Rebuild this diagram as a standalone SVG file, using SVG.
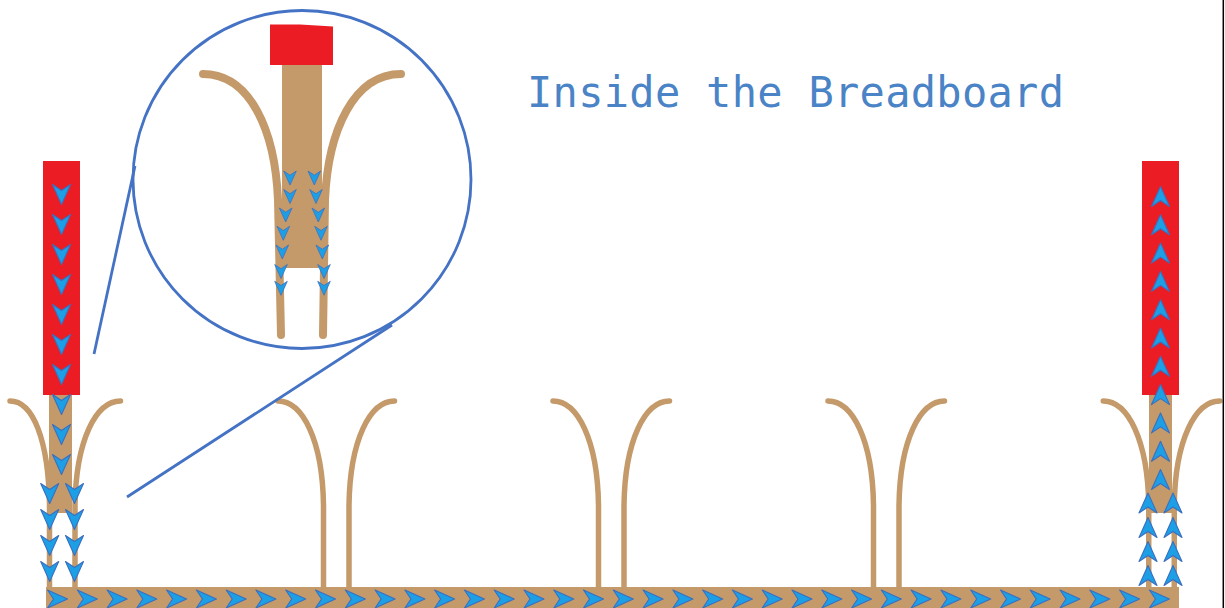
<svg xmlns="http://www.w3.org/2000/svg" xmlns:xlink="http://www.w3.org/1999/xlink" width="1225" height="608" viewBox="0 0 1225 608">
  <style>
    .brass { fill: #c49a6a; }
    .brass-line { fill: none; stroke: #c49a6a; stroke-linecap: round; }
    .prong { fill: none; stroke: #c49a6a; stroke-width: 5.5; stroke-linecap: round; }
    .lead { fill: #ec1c24; }
    .flow { fill: #1d9fe6; stroke: #3a6fc0; stroke-width: 1.1; stroke-linejoin: round; }
    .zoom { fill: none; stroke: #4472c4; stroke-width: 2.8; }
    .title { font-family: "DejaVu Sans Mono", "Liberation Mono", monospace; font-size: 42px; fill: #4a84c6; }
  </style>
  <defs>
    <!-- current-flow chevron, pointing right, centred on the origin -->
    <path id="arr" d="M-10,-9 L10,0 L-10,9 L-4,0 Z"/>
    <!-- one spring contact of a breadboard clip, leg centred on x=0 -->
    <path id="prong" d="M-45.5,401 C-21,401 -1,440 0,505 L0,587"/>
    <g id="clip" class="prong">
      <use xlink:href="#prong"/>
      <use xlink:href="#prong" transform="translate(25.5,0) scale(-1,1)"/>
    </g>
  </defs>

  <rect width="1225" height="608" fill="#ffffff"/>

  <!-- bus strip running along the bottom -->
  <g id="bus">
    <rect class="brass" x="46" y="587" width="1133" height="21"/>
  </g>

  <!-- spring clips -->
  <g id="clips">
    <g id="clip-1" class="prong">
      <path d="M10,401 C33,401 48.5,440 49.5,505 L49.5,587"/>
      <use xlink:href="#prong" transform="translate(75,0) scale(-1,1)"/>
    </g>
    <use id="clip-2" xlink:href="#clip" transform="translate(323.5,0)"/>
    <use id="clip-3" xlink:href="#clip" transform="translate(598.5,0)"/>
    <use id="clip-4" xlink:href="#clip" transform="translate(873.5,0)"/>
    <use id="clip-5" xlink:href="#clip" transform="translate(1148.75,0)"/>
  </g>

  <!-- component leads pushed into the outer clips -->
  <g id="left-lead">
    <rect class="lead" x="43" y="161" width="37" height="234"/>
    <rect class="brass" x="49" y="395" width="23" height="118"/>
  </g>
  <g id="right-lead">
    <rect class="lead" x="1142" y="161" width="37" height="234"/>
    <rect class="brass" x="1149" y="395" width="23" height="118"/>
  </g>

  <!-- current flow -->
  <g id="flow-left" class="flow">
    <use xlink:href="#arr" transform="translate(61.5,194.5) rotate(90)"/>
    <use xlink:href="#arr" transform="translate(61.5,224.5) rotate(90)"/>
    <use xlink:href="#arr" transform="translate(61.5,254.5) rotate(90)"/>
    <use xlink:href="#arr" transform="translate(61.5,284.5) rotate(90)"/>
    <use xlink:href="#arr" transform="translate(61.5,314.5) rotate(90)"/>
    <use xlink:href="#arr" transform="translate(61.5,344.5) rotate(90)"/>
    <use xlink:href="#arr" transform="translate(61.5,374.5) rotate(90)"/>
    <use xlink:href="#arr" transform="translate(61.5,404.5) rotate(90)"/>
    <use xlink:href="#arr" transform="translate(61.5,434.5) rotate(90)"/>
    <use xlink:href="#arr" transform="translate(61.5,464.5) rotate(90)"/>
    <use xlink:href="#arr" transform="translate(49.7,493.5) rotate(90)"/>
    <use xlink:href="#arr" transform="translate(49.7,519.5) rotate(90)"/>
    <use xlink:href="#arr" transform="translate(49.7,545.5) rotate(90)"/>
    <use xlink:href="#arr" transform="translate(49.7,571.5) rotate(90)"/>
    <use xlink:href="#arr" transform="translate(74.5,493.5) rotate(90)"/>
    <use xlink:href="#arr" transform="translate(74.5,519.5) rotate(90)"/>
    <use xlink:href="#arr" transform="translate(74.5,545.5) rotate(90)"/>
    <use xlink:href="#arr" transform="translate(74.5,571.5) rotate(90)"/>
  </g>
  <g id="flow-right" class="flow">
    <use xlink:href="#arr" transform="translate(1160.5,196.5) rotate(-90)"/>
    <use xlink:href="#arr" transform="translate(1160.5,224.8) rotate(-90)"/>
    <use xlink:href="#arr" transform="translate(1160.5,253.1) rotate(-90)"/>
    <use xlink:href="#arr" transform="translate(1160.5,281.4) rotate(-90)"/>
    <use xlink:href="#arr" transform="translate(1160.5,309.7) rotate(-90)"/>
    <use xlink:href="#arr" transform="translate(1160.5,338) rotate(-90)"/>
    <use xlink:href="#arr" transform="translate(1160.5,366.3) rotate(-90)"/>
    <use xlink:href="#arr" transform="translate(1160.5,394.6) rotate(-90)"/>
    <use xlink:href="#arr" transform="translate(1160.5,422.9) rotate(-90)"/>
    <use xlink:href="#arr" transform="translate(1160.5,451.2) rotate(-90)"/>
    <use xlink:href="#arr" transform="translate(1160.5,479.5) rotate(-90)"/>
    <use xlink:href="#arr" transform="translate(1148,503) rotate(-90)"/>
    <use xlink:href="#arr" transform="translate(1148,527.5) rotate(-90)"/>
    <use xlink:href="#arr" transform="translate(1148,551.5) rotate(-90)"/>
    <use xlink:href="#arr" transform="translate(1148,575.5) rotate(-90)"/>
    <use xlink:href="#arr" transform="translate(1173,503) rotate(-90)"/>
    <use xlink:href="#arr" transform="translate(1173,527.5) rotate(-90)"/>
    <use xlink:href="#arr" transform="translate(1173,551.5) rotate(-90)"/>
    <use xlink:href="#arr" transform="translate(1173,575.5) rotate(-90)"/>
  </g>
  <g id="flow-bus" class="flow">
    <use xlink:href="#arr" transform="translate(57.5,599)"/>
    <use xlink:href="#arr" transform="translate(87.3,599)"/>
    <use xlink:href="#arr" transform="translate(117.1,599)"/>
    <use xlink:href="#arr" transform="translate(146.8,599)"/>
    <use xlink:href="#arr" transform="translate(176.6,599)"/>
    <use xlink:href="#arr" transform="translate(206.4,599)"/>
    <use xlink:href="#arr" transform="translate(236.2,599)"/>
    <use xlink:href="#arr" transform="translate(265.9,599)"/>
    <use xlink:href="#arr" transform="translate(295.7,599)"/>
    <use xlink:href="#arr" transform="translate(325.5,599)"/>
    <use xlink:href="#arr" transform="translate(355.3,599)"/>
    <use xlink:href="#arr" transform="translate(385.1,599)"/>
    <use xlink:href="#arr" transform="translate(414.9,599)"/>
    <use xlink:href="#arr" transform="translate(444.6,599)"/>
    <use xlink:href="#arr" transform="translate(474.4,599)"/>
    <use xlink:href="#arr" transform="translate(504.2,599)"/>
    <use xlink:href="#arr" transform="translate(534,599)"/>
    <use xlink:href="#arr" transform="translate(563.8,599)"/>
    <use xlink:href="#arr" transform="translate(593.5,599)"/>
    <use xlink:href="#arr" transform="translate(623.3,599)"/>
    <use xlink:href="#arr" transform="translate(653.1,599)"/>
    <use xlink:href="#arr" transform="translate(682.9,599)"/>
    <use xlink:href="#arr" transform="translate(712.7,599)"/>
    <use xlink:href="#arr" transform="translate(742.4,599)"/>
    <use xlink:href="#arr" transform="translate(772.2,599)"/>
    <use xlink:href="#arr" transform="translate(802,599)"/>
    <use xlink:href="#arr" transform="translate(831.8,599)"/>
    <use xlink:href="#arr" transform="translate(861.6,599)"/>
    <use xlink:href="#arr" transform="translate(891.3,599)"/>
    <use xlink:href="#arr" transform="translate(921.1,599)"/>
    <use xlink:href="#arr" transform="translate(950.9,599)"/>
    <use xlink:href="#arr" transform="translate(980.7,599)"/>
    <use xlink:href="#arr" transform="translate(1010.5,599)"/>
    <use xlink:href="#arr" transform="translate(1040.2,599)"/>
    <use xlink:href="#arr" transform="translate(1070,599)"/>
    <use xlink:href="#arr" transform="translate(1099.8,599)"/>
    <use xlink:href="#arr" transform="translate(1129.6,599)"/>
    <use xlink:href="#arr" transform="translate(1159.4,599)"/>
  </g>

  <!-- magnified view of the left clip -->
  <g id="zoom-lines">
    <line class="zoom" x1="94" y1="354" x2="135" y2="166"/>
    <line class="zoom" x1="127" y1="497" x2="392" y2="325"/>
  </g>
  <g id="inset">
    <circle class="zoom" cx="302" cy="179.5" r="169"/>
    <path class="brass-line" stroke-width="8" d="M203,74 C250,74 275,130 278,200 L281,335"/>
    <path class="brass-line" stroke-width="8" d="M401,74 C354,74 328,130 325,200 L323,335"/>
    <rect class="brass" x="282" y="64" width="40" height="204"/>
    <path class="lead" d="M270,24.5 L300,24.5 L333,26.5 L333,65 L270,65 Z"/>
    <g class="flow">
      <use xlink:href="#arr" transform="translate(290,178) rotate(90) scale(0.7)"/>
      <use xlink:href="#arr" transform="translate(290,196.5) rotate(90) scale(0.7)"/>
      <use xlink:href="#arr" transform="translate(285.7,215) rotate(90) scale(0.7)"/>
      <use xlink:href="#arr" transform="translate(283.3,233.3) rotate(90) scale(0.7)"/>
      <use xlink:href="#arr" transform="translate(282.3,252) rotate(90) scale(0.7)"/>
      <use xlink:href="#arr" transform="translate(281,271.5) rotate(90) scale(0.7)"/>
      <use xlink:href="#arr" transform="translate(281,288.3) rotate(90) scale(0.7)"/>
      <use xlink:href="#arr" transform="translate(314.3,178) rotate(90) scale(0.7)"/>
      <use xlink:href="#arr" transform="translate(316,196.5) rotate(90) scale(0.7)"/>
      <use xlink:href="#arr" transform="translate(318.3,215) rotate(90) scale(0.7)"/>
      <use xlink:href="#arr" transform="translate(321,233.3) rotate(90) scale(0.7)"/>
      <use xlink:href="#arr" transform="translate(322.3,252) rotate(90) scale(0.7)"/>
      <use xlink:href="#arr" transform="translate(324,271.5) rotate(90) scale(0.7)"/>
      <use xlink:href="#arr" transform="translate(324,288.3) rotate(90) scale(0.7)"/>
    </g>
  </g>

  <g id="title">
    <text class="title" x="527" y="107" textLength="537" lengthAdjust="spacing">Inside the Breadboard</text>
  </g>

  <!-- frame edge on the right -->
  <line x1="1223.3" y1="0" x2="1223.3" y2="608" stroke="#000000" stroke-width="1.5"/>
</svg>
